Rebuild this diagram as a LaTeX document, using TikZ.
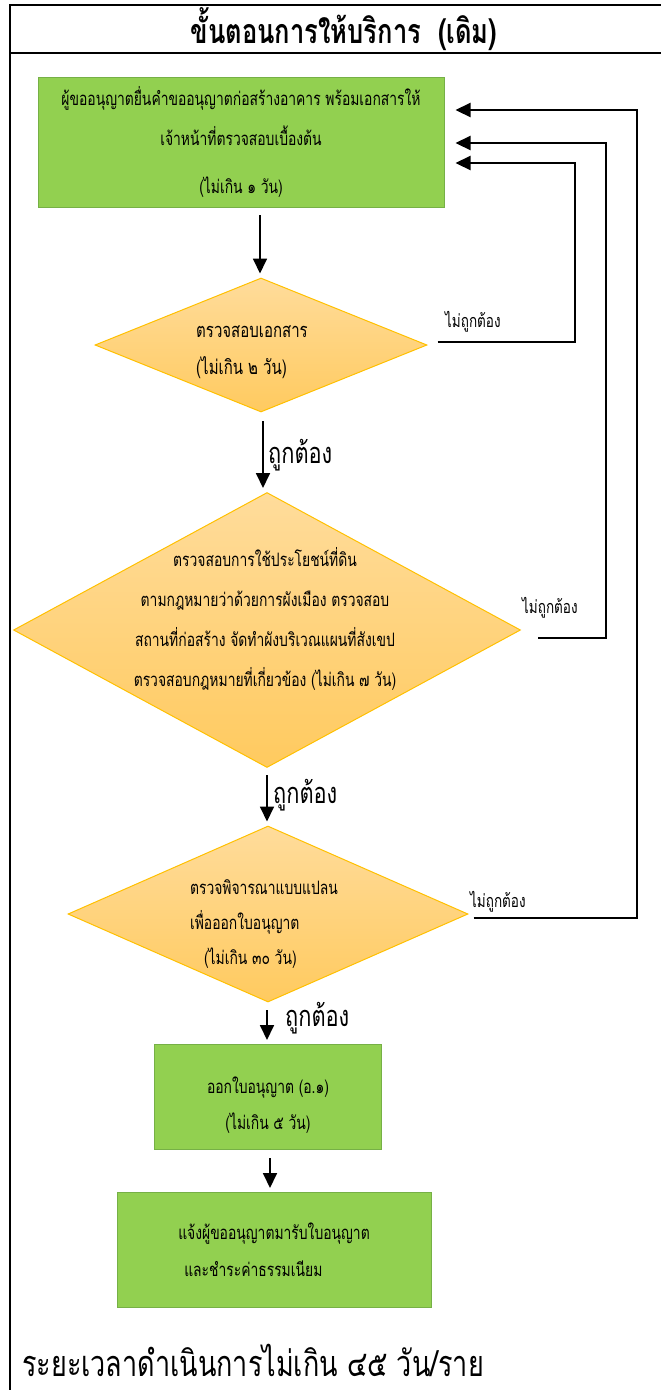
\documentclass[tikz,border=0pt]{standalone}
\usepackage{fontspec}
\setmainfont{Loma}[Script=Thai,FakeStretch=0.75]
\usetikzlibrary{shapes.geometric,arrows.meta}
\definecolor{stepgreen}{RGB}{146,208,80}
\definecolor{stepedge}{RGB}{118,176,70}
\definecolor{gatetop}{RGB}{255,220,155}
\definecolor{gatebot}{RGB}{255,202,95}
\definecolor{gateedge}{RGB}{255,192,0}
\newcommand{\drawthick}{\draw[line width=2.5pt]}
\newcommand{\drawflow}{\draw[line width=1.8pt,-{Triangle[width=14pt,length=15pt]},shorten <=8pt,shorten >=4pt]}
\newcommand{\drawback}{\draw[line width=2.2pt,-{Triangle[width=14pt,length=15pt]},shorten >=11pt]}
\tikzset{
  stepbox/.style={draw=stepedge,fill=stepgreen,line width=1pt,inner sep=0pt},
  gate/.style={diamond,draw=gateedge,top color=gatetop,bottom color=gatebot,line width=1pt,inner sep=0pt},
  steptext/.style={inner sep=0pt,font=\fontsize{18.5}{#1}\selectfont},
  steptext/.default=40,
  oklabel/.style={anchor=west,inner sep=0pt,font=\fontsize{29}{30}\selectfont},
  nolabel/.style={anchor=west,inner sep=0pt,font=\fontsize{18}{20}\selectfont}
}
\begin{document}
\begin{tikzpicture}[x=1pt,y=-1pt]
\useasboundingbox (0,0) rectangle (661,1390);
% frame and title
\drawthick (10,1390)--(10,5)--(661,5);
\drawthick (10,53)--(661,53);
\node[inner sep=0pt,font=\bfseries\fontsize{34}{36}\selectfont] (title) at (344,29) {ขั้นตอนการให้บริการ \ (เดิม)};
% steps
\node[stepbox,minimum width=406,minimum height=130,align=center,steptext] (req) at (241,142)
  {ผู้ขออนุญาตยื่นคำขออนุญาตก่อสร้างอาคาร พร้อมเอกสารให้\\เจ้าหน้าที่ตรวจสอบเบื้องต้น\\[8pt](ไม่เกิน ๑ วัน)};
\node[gate,minimum width=332,minimum height=134] (chk1) at (261,345) {};
\node[steptext=37,font=\fontsize{20}{37}\selectfont,align=left] (chk1text) at (252,352) {ตรวจสอบเอกสาร\\(ไม่เกิน ๒ วัน)};
\node[gate,minimum width=507,minimum height=275] (chk2) at (267,630) {};
\node[steptext,align=center] (chk2text) at (265,619)
  {ตรวจสอบการใช้ประโยชน์ที่ดิน\\ตามกฎหมายว่าด้วยการผังเมือง ตรวจสอบ\\สถานที่ก่อสร้าง จัดทำผังบริเวณแผนที่สังเขป\\ตรวจสอบกฎหมายที่เกี่ยวข้อง (ไม่เกิน ๗ วัน)};
\node[gate,minimum width=400,minimum height=176] (chk3) at (268,914) {};
\node[steptext=35,align=left] (chk3text) at (264,924)
  {ตรวจพิจารณาแบบแปลน\\เพื่อออกใบอนุญาต\\\hspace*{14pt}(ไม่เกิน ๓๐ วัน)};
\node[stepbox,minimum width=227,minimum height=105,align=center,steptext=36] (issue) at (268,1097)
  {\rule{0pt}{32pt}ออกใบอนุญาต (อ.๑)\\(ไม่เกิน ๕ วัน)};
\node[stepbox,minimum width=314,minimum height=115,align=left,steptext=37] (notify) at (274,1250)
  {แจ้งผู้ขออนุญาตมารับใบอนุญาต\\\hspace*{6pt}และชำระค่าธรรมเนียม};
% flow
\drawflow (260,207) -- (chk1.north -| 260,0);
\drawflow (263,413) -- (263,492);
\drawflow (267,767) -- (chk3.north -| 267,0);
\drawflow (267,1002) -- (issue.north -| 267,0);
\drawflow (issue.south -| 270,0) -- (notify.north -| 270,0);
\node[oklabel] (ok1) at (268,455) {ถูกต้อง};
\node[oklabel] (ok2) at (273,795) {ถูกต้อง};
\node[oklabel] (ok3) at (285,1018) {ถูกต้อง};
% back to first step
\drawback ([xshift=10pt,yshift=3pt]chk1.east) -| (575,163) -- (req.east |- 0,163);
\drawback ([xshift=17pt,yshift=-8pt]chk2.east) -| (606,143) -- (req.east |- 0,143);
\drawback ([xshift=5pt,yshift=-4pt]chk3.east) -| (637,110) -- (req.east |- 0,110);
\node[nolabel] (no1) at (445,322) {ไม่ถูกต้อง};
\node[nolabel] (no2) at (522,608) {ไม่ถูกต้อง};
\node[nolabel] (no3) at (470,902) {ไม่ถูกต้อง};
\node[anchor=west,inner sep=0pt,font=\fontsize{36}{40}\selectfont] (total) at (22,1360) {ระยะเวลาดำเนินการไม่เกิน ๔๕ วัน/ราย};
\end{tikzpicture}
\end{document}
